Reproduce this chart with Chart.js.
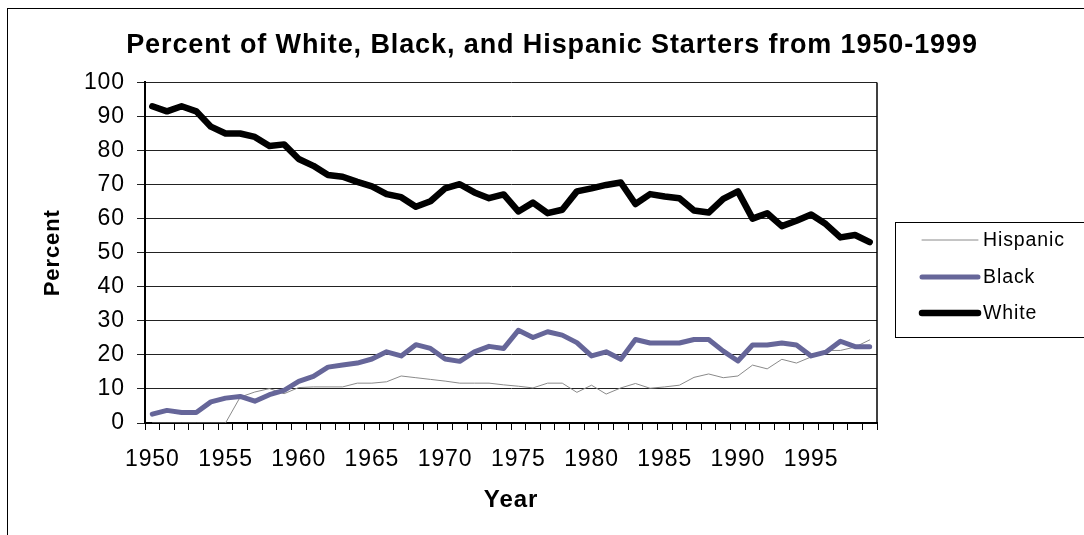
<!DOCTYPE html>
<html>
<head>
<meta charset="utf-8">
<script src="https://cdn.jsdelivr.net/npm/chart.js@4.4.1/dist/chart.umd.min.js"></script>
<style>
  html, body { margin: 0; padding: 0; background: #fff; }
  #wrap { width: 1084px; height: 535px; }
</style>
</head>
<body>
<div id="wrap"><canvas id="startersChart" width="1084" height="535"></canvas></div>
<script>
const years = [
  "1950", "1951", "1952", "1953", "1954", "1955", "1956", "1957", "1958", "1959",
  "1960", "1961", "1962", "1963", "1964", "1965", "1966", "1967", "1968", "1969",
  "1970", "1971", "1972", "1973", "1974", "1975", "1976", "1977", "1978", "1979",
  "1980", "1981", "1982", "1983", "1984", "1985", "1986", "1987", "1988", "1989",
  "1990", "1991", "1992", "1993", "1994", "1995", "1996", "1997", "1998", "1999"
];
const yearLabels = ["1950", "1955", "1960", "1965", "1970", "1975", "1980", "1985", "1990", "1995"];

const white = [
  93, 91.5, 93, 91.5, 87, 85, 85, 84, 81.3, 81.8,
  77.5, 75.5, 72.8, 72.3, 70.8, 69.5, 67.2, 66.3, 63.5, 65.1,
  68.9, 70.1, 67.7, 66.0, 67.1, 62.1, 64.7, 61.6, 62.6, 68.0,
  68.9, 69.9, 70.6, 64.3, 67.2, 66.5, 66.0, 62.4, 61.8, 65.8,
  68.0, 60.0, 61.6, 57.8, 59.4, 61.2, 58.4, 54.5, 55.2, 53.1
];
const black = [
  2.6, 3.7, 3.1, 3.1, 6.2, 7.3, 7.8, 6.4, 8.3, 9.6,
  12.2, 13.7, 16.4, 17.0, 17.6, 18.8, 20.9, 19.7, 23.0, 21.9,
  18.8, 18.1, 20.9, 22.5, 21.9, 27.2, 25.1, 26.8, 25.8, 23.6,
  19.7, 20.9, 18.7, 24.5, 23.5, 23.5, 23.5, 24.5, 24.5, 21.1,
  18.2, 22.9, 22.9, 23.5, 22.9, 19.7, 20.8, 24.0, 22.4, 22.4
];
const hispanic = [
  0, 0, 0, 0, 0, 0, 7.6, 9.1, 10.1, 8.6,
  10.4, 10.6, 10.6, 10.6, 11.7, 11.7, 12.1, 13.8, 13.3, 12.8,
  12.3, 11.7, 11.7, 11.7, 11.2, 10.8, 10.3, 11.7, 11.7, 9.0,
  11.1, 8.5, 10.3, 11.6, 10.2, 10.6, 11.1, 13.4, 14.4, 13.3,
  13.8, 17.0, 15.9, 18.7, 17.6, 19.4, 21.3, 21.3, 22.3, 24.4
];

const FONT = "'Liberation Sans', Arial, sans-serif";

// outer frame, plot border and the boxed legend
const framePlugin = {
  id: "frame",
  beforeDraw(chart) {
    const c = chart.ctx;
    c.fillStyle = "#fff";
    c.fillRect(0, 0, chart.width, chart.height);
    c.strokeStyle = "#000";
    c.lineWidth = 1;
    c.strokeRect(7.5, 8.5, 1200, 700);
    // Excel text looks a little wider than Arial
    c.letterSpacing = "0.9px";
  },
  afterDraw(chart) {
    const c = chart.ctx;
    const a = chart.chartArea;
    c.save();
    c.strokeStyle = "#000";
    c.lineWidth = 1.5;
    c.beginPath();
    c.moveTo(a.right, a.top);
    c.lineTo(a.right, a.bottom);
    c.stroke();

    // legend
    c.lineWidth = 1;
    c.strokeRect(895.5, 222.5, 300, 115);
    const rows = [240, 277, 313];
    const sets = chart.data.datasets.slice().reverse();
    c.font = "19.5px " + FONT;
    c.textBaseline = "middle";
    c.textAlign = "left";
    sets.forEach((ds, i) => {
      c.strokeStyle = ds.borderColor;
      c.lineWidth = ds.borderWidth;
      c.lineCap = "round";
      c.beginPath();
      c.moveTo(922, rows[i]);
      c.lineTo(978, rows[i]);
      c.stroke();
      c.fillStyle = "#000";
      c.fillText(ds.label, 983, rows[i] + 1);
    });
    c.restore();
  }
};

new Chart(document.getElementById("startersChart"), {
  type: "line",
  data: {
    labels: years,
    datasets: [
      {
        label: "White",
        data: white,
        borderColor: "#000000",
        borderWidth: 6.5
      },
      {
        label: "Black",
        data: black,
        borderColor: "#666699",
        borderWidth: 5
      },
      {
        label: "Hispanic",
        data: hispanic,
        borderColor: "#8a8a8a",
        borderWidth: 1
      }
    ]
  },
  options: {
    responsive: false,
    animation: false,
    devicePixelRatio: 1,
    layout: { padding: { left: 20, right: 0, top: 0, bottom: 0 } },
    elements: {
      point: { radius: 0 },
      line: { tension: 0, borderJoinStyle: "round", borderCapStyle: "round" }
    },
    plugins: {
      legend: { display: false },
      tooltip: { enabled: false },
      title: {
        display: true,
        text: "Percent of White, Black, and Hispanic Starters from 1950-1999",
        color: "#000",
        font: { family: FONT, size: 27, weight: "bold" },
        padding: { top: 29, bottom: 21 }
      }
    },
    scales: {
      x: {
        offset: true,
        grid: {
          offset: true,
          drawOnChartArea: false,
          drawTicks: true,
          tickLength: 7,
          color: "#000"
        },
        border: { display: true, color: "#000", width: 2 },
        ticks: {
          autoSkip: false,
          maxRotation: 0,
          minRotation: 0,
          padding: 16,
          color: "#000",
          font: { family: FONT, size: 23 },
          callback: function (value, index) {
            const lab = years[index];
            return yearLabels.includes(lab) ? lab : "";
          }
        },
        title: {
          display: true,
          text: "Year",
          color: "#000",
          font: { family: FONT, size: 24, weight: "bold" },
          padding: { top: 0, bottom: 20 }
        },
        afterFit: (s) => { s.height = 112; }
      },
      y: {
        min: 0,
        max: 100,
        ticks: {
          stepSize: 10,
          padding: 12,
          color: "#000",
          font: { family: FONT, size: 23 }
        },
        grid: { color: "#222", tickLength: 8, lineWidth: 1 },
        border: { display: true, color: "#000", width: 2 },
        title: {
          display: true,
          text: "Percent",
          color: "#000",
          font: { family: FONT, size: 22, weight: "bold" },
          padding: { top: 20, bottom: 0 }
        },
        afterFit: (s) => { s.width = 125; }
      },
      legendSpace: {
        position: "right",
        display: true,
        grid: { display: false, drawTicks: false },
        border: { display: false },
        ticks: { display: false },
        afterFit: (s) => { s.width = 207; }
      }
    }
  },
  plugins: [framePlugin]
});
</script>
</body>
</html>
